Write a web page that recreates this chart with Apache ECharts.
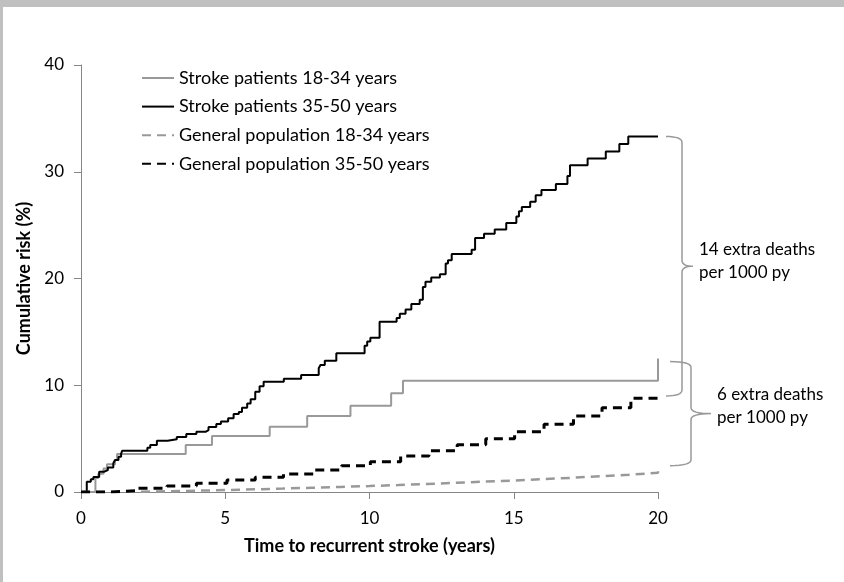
<!DOCTYPE html>
<html>
<head>
<meta charset="utf-8">
<script src="https://cdn.jsdelivr.net/npm/echarts@6/dist/echarts.min.js"></script>
<style>
  html, body { margin: 0; padding: 0; background: #fff; }
  #chart { width: 844px; height: 582px; }
</style>
</head>
<body>
<div id="chart"></div>
<script>
// Kaplan-Meier style cumulative risk of death after stroke, by age group,
// compared with the matched general population.

const seriesNames = [
  'Stroke patients 18-34 years',
  'Stroke patients 35-50 years',
  'General population 18-34 years',
  'General population 35-50 years'
];

// Stroke patients 18-34 years: event times (years) and cumulative risk (%)
const strokeYoungTime = [0, 0.5, 0.6, 0.78, 0.9, 1.18, 1.25, 3.63, 4.54, 6.54, 7.84, 9.34, 10.75, 11.16, 20];
const strokeYoungRisk = [0, 1.3, 1.7, 2.2, 2.6, 3.0, 3.55, 4.4, 5.25, 6.12, 7.12, 8.08, 9.24, 10.43, 12.5];

// Stroke patients 35-50 years
const strokeOldTime = [0, 0.2, 0.34, 0.43, 0.63, 0.81, 0.93, 1.12, 1.18, 1.3, 1.39, 1.43, 2.3, 2.4, 2.63,
  3.0, 3.32, 3.65, 4.0, 4.33, 4.42, 4.69, 4.85, 5.1, 5.29, 5.47, 5.58, 5.76, 5.88, 6.04, 6.19, 6.33,
  7.03, 7.63, 8.24, 8.3, 8.45, 8.85, 9.83, 9.92, 10.03, 10.35, 10.94, 11.05, 11.25, 11.45, 11.74,
  11.85, 11.94, 12.14, 12.44, 12.64, 12.72, 12.85, 13.54, 13.66, 13.97, 14.34, 14.74, 15.09, 15.18,
  15.28, 15.57, 15.76, 15.96, 16.46, 16.86, 16.95, 17.56, 18.19, 18.66, 18.97, 20];
const strokeOldRisk = [0, 0.95, 1.2, 1.4, 1.9, 2.06, 2.3, 2.7, 3.0, 3.3, 3.6, 3.87, 4.15, 4.4, 4.8,
  4.94, 5.15, 5.43, 5.65, 5.8, 6.1, 6.37, 6.6, 6.9, 7.3, 7.5, 7.9, 8.3, 8.7, 9.4, 9.9, 10.33,
  10.6, 10.96, 11.6, 11.9, 12.3, 13.0, 13.7, 14.1, 14.45, 15.95, 16.3, 16.7, 17.1, 17.6, 18.0,
  19.2, 19.7, 20.1, 20.4, 21.4, 21.7, 22.3, 22.7, 23.8, 24.2, 24.6, 25.2, 25.8, 26.3,
  26.7, 27.2, 27.8, 28.3, 28.85, 29.6, 30.6, 31.25, 31.9, 32.6, 33.3, 33.3];

// General population 18-34 years
const popYoungTime = [0, 1, 2, 3, 4, 5, 6, 7, 8, 9, 10, 11, 12, 13, 14, 15, 16, 17, 18, 19, 20];
const popYoungRisk = [0, 0.03, 0.07, 0.12, 0.18, 0.25, 0.32, 0.4, 0.48, 0.56, 0.65, 0.75, 0.86, 0.97,
  1.08, 1.2, 1.33, 1.47, 1.62, 1.8, 2.0];

// General population 35-50 years
const popOldTime = [0, 1, 1.93, 2.98, 4, 5.06, 6.04, 7.02, 8.07, 9.03, 10.03, 11.08, 12.06, 13.04,
  14.03, 15.03, 16.05, 17.07, 18.06, 19.06, 20];
const popOldRisk = [0, 0.12, 0.35, 0.56, 0.81, 1.12, 1.38, 1.69, 2.06, 2.46, 2.84, 3.37, 3.87, 4.43,
  5.0, 5.65, 6.34, 7.12, 7.9, 8.78, 9.0];

// Axis ticks
const xTicks = { min: 0, max: 20, step: 5 };
const yTicks = { min: 0, max: 40, step: 10 };

// Bracket annotations
const bracketLabels = ['14 extra deaths\nper 1000 py', '6 extra deaths\nper 1000 py'];

const zip = (t, v) => t.map((x, i) => [x, v[i]]);

const FONT = 'Lato';
const axisGray = '#868686';
const lightGray = '#999999';

const chart = echarts.init(document.getElementById('chart'));

function stepSeries(name, data, color, width, type) {
  return {
    name: name,
    type: 'line',
    step: 'end',
    data: data,
    showSymbol: false,
    symbol: 'none',
    silent: true,
    lineStyle: { color: color, width: width, type: type },
    itemStyle: { color: color }
  };
}

const data1 = zip(strokeYoungTime, strokeYoungRisk);
const data2 = zip(strokeOldTime, strokeOldRisk);
const data3 = zip(popYoungTime, popYoungRisk);
const data4 = zip(popOldTime, popOldRisk);

chart.setOption({
  animation: false,
  grid: { left: 81, top: 65, width: 577, height: 427 },
  legend: {
    orient: 'vertical',
    left: 141,
    top: 69,
    padding: 0,
    itemWidth: 32,
    itemHeight: 14,
    itemGap: 10.6,
    data: seriesNames,
    itemStyle: { opacity: 0 },
    textStyle: { fontFamily: FONT, fontSize: 18, color: '#000' },
    selectedMode: false
  },
  xAxis: {
    type: 'value',
    min: xTicks.min, max: xTicks.max, interval: xTicks.step,
    name: 'Time to recurrent stroke (years)',
    nameLocation: 'middle',
    nameGap: 45,
    nameTextStyle: { fontFamily: FONT, fontSize: 18, fontWeight: 'bold', color: '#000' },
    axisLine: { lineStyle: { color: axisGray, width: 1 } },
    axisTick: { show: true, length: 7, lineStyle: { color: axisGray } },
    axisLabel: { fontFamily: FONT, fontSize: 17, color: '#000', margin: 18 },
    splitLine: { show: false }
  },
  yAxis: {
    type: 'value',
    min: yTicks.min, max: yTicks.max, interval: yTicks.step,
    name: 'Cumulative risk (%)',
    nameLocation: 'middle',
    nameGap: 42,
    nameTextStyle: { fontFamily: FONT, fontSize: 18, fontWeight: 'bold', color: '#000' },
    axisLine: { show: true, lineStyle: { color: axisGray, width: 1 } },
    axisTick: { show: true, length: 7, lineStyle: { color: axisGray } },
    axisLabel: { fontFamily: FONT, fontSize: 17, color: '#000', margin: 17 },
    splitLine: { show: false }
  },
  series: [
    stepSeries(seriesNames[0], data1, lightGray, 2, 'solid'),
    stepSeries(seriesNames[1], data2, '#000000', 2, 'solid'),
    stepSeries(seriesNames[2], data3, lightGray, 2.5, [9, 6]),
    stepSeries(seriesNames[3], data4, '#000000', 3, [9, 6])
  ]
});

// Curly bracket as a polyline: quadratic corners sampled into points
function quad(p0, c, p1, n) {
  const pts = [];
  for (let i = 1; i <= n; i++) {
    const t = i / n, u = 1 - t;
    pts.push([u * u * p0[0] + 2 * u * t * c[0] + t * t * p1[0],
              u * u * p0[1] + 2 * u * t * c[1] + t * t * p1[1]]);
  }
  return pts;
}

function bracePoints(x0, x1, x2, yTop, yBot) {
  const ym = (yTop + yBot) / 2;
  const r = 6;
  let pts = [[x0, yTop]];
  pts = pts.concat(quad([x0, yTop], [x1, yTop], [x1, yTop + r], 8));
  pts.push([x1, ym - r]);
  pts = pts.concat(quad([x1, ym - r], [x1, ym], [x2, ym], 8));
  pts = pts.concat(quad([x2, ym], [x1, ym], [x1, ym + r], 8));
  pts.push([x1, yBot - r]);
  pts = pts.concat(quad([x1, yBot - r], [x1, yBot], [x0, yBot], 8));
  return pts;
}

function drawAnnotations() {
  const endX = xTicks.max;
  const last = a => a[a.length - 1];
  const p = v => chart.convertToPixel({ gridIndex: 0 }, [endX, v]);
  const a1 = p(last(strokeOldRisk)), b1 = p(last(popOldRisk));
  const a2 = p(last(strokeYoungRisk)), b2 = p(last(popYoungRisk));
  const xe = a1[0];

  const braces = [
    { top: a1[1], bot: b1[1], dx0: 8, dx1: 24, dx2: 35, textDy: -5, label: bracketLabels[0] },
    { top: a2[1] + 3, bot: b2[1] - 5, dx0: 12, dx1: 33, dx2: 53, textDy: -8, label: bracketLabels[1] }
  ];

  const elements = [
    { type: 'rect', shape: { x: 0, y: 0, width: 844, height: 7 }, style: { fill: '#c0c0c0' }, silent: true },
    { type: 'rect', shape: { x: 0, y: 0, width: 3, height: 582 }, style: { fill: '#c0c0c0' }, silent: true }
  ];
  braces.forEach(b => {
    const x2 = xe + b.dx2;
    elements.push({
      type: 'polyline',
      shape: { points: bracePoints(xe + b.dx0, xe + b.dx1, x2, b.top, b.bot) },
      style: { fill: null, stroke: lightGray, lineWidth: 1.5 },
      silent: true
    });
    elements.push({
      type: 'text',
      x: x2 + 6,
      y: (b.top + b.bot) / 2 + b.textDy,
      style: {
        text: b.label,
        font: '17px ' + FONT,
        fill: '#000',
        lineHeight: 23,
        verticalAlign: 'middle',
        align: 'left'
      },
      silent: true
    });
  });
  chart.setOption({ graphic: { elements: elements } });
}
drawAnnotations();
</script>
</body>
</html>
